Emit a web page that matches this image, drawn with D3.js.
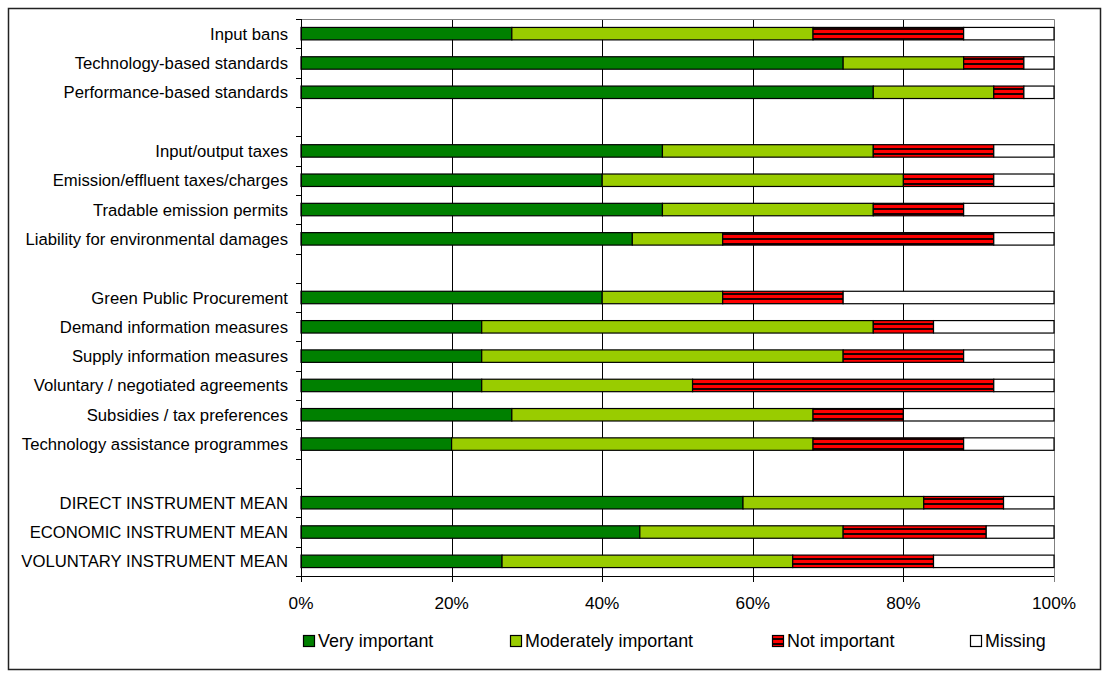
<!DOCTYPE html>
<html><head><meta charset="utf-8">
<script src="https://cdn.jsdelivr.net/npm/d3@7"></script>
<style>
html,body{margin:0;padding:0;background:#fff;}
text{font-family:Arial,"Liberation Sans",sans-serif;fill:#000;}
</style></head>
<body>
<svg id="chart" width="1103" height="675"></svg>
<script>
const categories = [
  "Input bans","Technology-based standards","Performance-based standards","",
  "Input/output taxes","Emission/effluent taxes/charges","Tradable emission permits","Liability for environmental damages","",
  "Green Public Procurement","Demand information measures","Supply information measures","Voluntary / negotiated agreements","Subsidies / tax preferences","Technology assistance programmes","",
  "DIRECT INSTRUMENT MEAN","ECONOMIC INSTRUMENT MEAN","VOLUNTARY INSTRUMENT MEAN"
];
const veryImportant =       [28,72,76,null,48,40,48,44,null,40,24,24,24,28,20,null,58.7,45,26.7];
const moderatelyImportant = [40,16,16,null,28,40,28,12,null,16,52,48,28,40,48,null,24,27,38.6];
const notImportant =        [20, 8, 4,null,16,12,12,36,null,16, 8,16,40,12,20,null,10.6,19,18.7];
const missing =             [12, 4, 4,null, 8, 8,12, 8,null,28,16,12, 8,20,12,null,6.7,9,16];
const seriesNames = ["Very important","Moderately important","Not important","Missing"];
const tickValues = [0,20,40,60,80,100];
const tickLabels = ["0%","20%","40%","60%","80%","100%"];

(function(){
const svg = d3.select("#chart");
const pLeft = 301, pRight = 1054, pTop = 19, pBottom = 576;

const defs = svg.append("defs");
const pat = defs.append("pattern").attr("id","redstripe").attr("patternUnits","userSpaceOnUse")
  .attr("width",6).attr("height",5);
pat.append("rect").attr("width",6).attr("height",5).attr("fill","#ff0000");
pat.append("rect").attr("y",3).attr("width",6).attr("height",2).attr("fill","#1a0000");

const fills = ["#008000","#99cc00","url(#redstripe)","#ffffff"];

svg.append("rect").attr("x",8.5).attr("y",8.5).attr("width",1092).attr("height",661)
  .attr("fill","none").attr("stroke","#222").attr("stroke-width",1.5);

const x = d3.scaleLinear().domain([0,100]).range([pLeft,pRight]);
const idx = categories.map((d,i)=>i);
const y = d3.scaleBand().domain(idx).range([pTop,pBottom]).paddingInner(0.575).paddingOuter(0.2875);

svg.append("g").selectAll("line").data(tickValues.filter(v=>v>0 && v<100)).join("line")
  .attr("x1",d=>Math.round(x(d))+0.5).attr("x2",d=>Math.round(x(d))+0.5)
  .attr("y1",pTop).attr("y2",pBottom).attr("stroke","#000").attr("stroke-width",1);
svg.append("path").attr("d",`M${pLeft},${pTop+0.5}H${pRight+0.5}V${pBottom}`)
  .attr("fill","none").attr("stroke","#808080").attr("stroke-width",1);

const rows = categories.map((c,i)=>({i, vals:[veryImportant[i],moderatelyImportant[i],notImportant[i],missing[i]]}))
  .filter(r=>r.vals[0]!==null);
const segs = [];
rows.forEach(r=>{let acc=0; r.vals.forEach((v,k)=>{segs.push({i:r.i,k,x0:acc,x1:acc+v}); acc+=v;});});

svg.append("g").selectAll("rect").data(segs).join("rect")
  .attr("x",d=>x(d.x0)).attr("width",d=>x(d.x1)-x(d.x0))
  .attr("y",d=>y(d.i)).attr("height",y.bandwidth())
  .attr("fill",d=>fills[d.k]).attr("stroke","#000").attr("stroke-width",1.2);

const step = y.step();
const yAxisG = svg.append("g");
yAxisG.append("line").attr("x1",pLeft+0.5).attr("x2",pLeft+0.5).attr("y1",pTop).attr("y2",pBottom+6).attr("stroke","#000");
yAxisG.selectAll("line.tk").data(d3.range(categories.length+1)).join("line").attr("class","tk")
  .attr("x1",pLeft-5).attr("x2",pLeft).attr("y1",d=>Math.round(pTop+d*step)+0.5).attr("y2",d=>Math.round(pTop+d*step)+0.5)
  .attr("stroke","#000");
yAxisG.selectAll("text").data(idx.filter(i=>categories[i]!=="")).join("text")
  .attr("x",288).attr("y",i=>y(i)+y.bandwidth()/2).attr("dy","0.36em")
  .attr("text-anchor","end").attr("font-size","16.7px").text(i=>categories[i]);

const xAxisG = svg.append("g");
xAxisG.append("line").attr("x1",pLeft).attr("x2",pRight+1).attr("y1",pBottom+0.5).attr("y2",pBottom+0.5).attr("stroke","#000");
xAxisG.selectAll("line.tk").data(tickValues).join("line").attr("class","tk")
  .attr("x1",d=>Math.round(x(d))+0.5).attr("x2",d=>Math.round(x(d))+0.5)
  .attr("y1",pBottom).attr("y2",pBottom+6).attr("stroke",d=>d===100?"#808080":"#000");
xAxisG.selectAll("text").data(tickValues).join("text")
  .attr("x",d=>x(d)).attr("y",609).attr("text-anchor","middle").attr("font-size","17.2px")
  .text((d,i)=>tickLabels[i]);

const legendX = [303,510,772,970];
const lg = svg.append("g").selectAll("g").data(seriesNames).join("g")
  .attr("transform",(d,i)=>`translate(${legendX[i]},635)`);
lg.append("rect").attr("x",0.5).attr("y",0.5).attr("width",11).attr("height",11)
  .attr("fill",(d,i)=>fills[i]).attr("stroke","#000").attr("stroke-width",1.2);
lg.append("text").attr("x",15).attr("y",11.5).attr("font-size","17.9px").text(d=>d);
})();
</script>
</body></html>
